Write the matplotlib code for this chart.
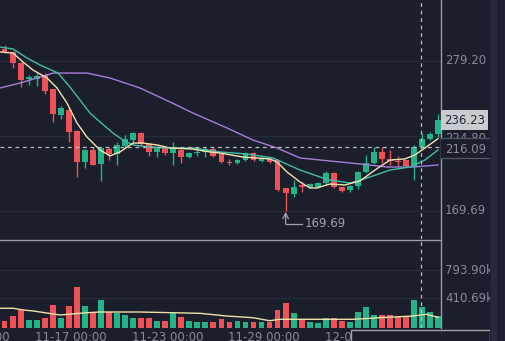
import matplotlib
matplotlib.use("Agg")
import matplotlib.pyplot as plt
from matplotlib.patches import Rectangle
from matplotlib.lines import Line2D

# candles (12h), oldest first
opens = [287.6, 285.8, 277.7, 266.1, 266.1, 269.0, 258.8, 239.8, 243.4, 228.1,
         205.5, 214.2, 204.0, 214.9, 211.3, 217.1, 221.5, 226.6, 218.6, 212.8,
         215.7, 212.0, 214.2, 209.1, 212.0, 212.8, 214.9, 211.3, 205.5, 204.7,
         206.9, 212.0, 206.2, 207.7, 206.9, 186.5, 182.1, 188.7, 187.2, 187.2,
         190.1, 197.4, 187.2, 185.0, 187.9, 198.2, 204.7, 212.8, 207.7, 206.2,
         206.9, 202.6, 216.4, 222.3, 225.9]
highs = [290.9, 286.5, 278.4, 269.0, 270.4, 270.4, 258.8, 246.3, 245.6, 228.8,
         214.9, 216.4, 215.7, 216.4, 220.1, 225.2, 227.4, 227.4, 219.0, 217.1,
         216.4, 220.1, 214.9, 212.8, 214.9, 216.4, 216.4, 212.0, 207.7, 207.7,
         212.8, 212.8, 209.1, 208.4, 207.7, 186.8, 192.3, 190.9, 190.1, 190.9,
         199.0, 198.2, 187.5, 188.7, 199.0, 210.6, 216.4, 216.4, 214.2, 209.9,
         207.2, 217.9, 226.6, 227.4, 240.5]
lows = [285.0, 274.1, 260.2, 261.7, 260.9, 255.1, 234.7, 236.9, 220.1, 194.5,
        201.1, 203.3, 191.6, 207.0, 203.3, 215.7, 219.3, 217.1, 209.9, 209.1,
        210.6, 203.3, 204.7, 208.4, 209.9, 209.1, 209.1, 204.7, 203.3, 204.0,
        206.2, 206.2, 205.5, 204.7, 184.5, 169.69, 179.9, 183.6, 186.5, 186.5,
        189.4, 186.5, 183.6, 183.6, 185.7, 197.4, 204.0, 204.7, 203.3, 202.6,
        202.0, 192.3, 215.7, 221.5, 223.7]
closes = [285.8, 277.7, 265.3, 267.5, 268.2, 257.3, 240.5, 244.9, 227.4, 205.5,
          214.2, 203.3, 215.7, 211.3, 217.9, 222.3, 226.6, 218.6, 212.8, 215.7,
          212.0, 216.4, 209.1, 212.0, 212.8, 214.9, 209.9, 205.5, 204.7, 206.9,
          212.0, 206.9, 208.4, 205.5, 185.0, 182.8, 187.2, 187.2, 189.4, 190.1,
          197.4, 187.2, 184.3, 187.9, 198.2, 204.7, 212.8, 207.7, 206.2, 205.5,
          202.6, 216.4, 222.3, 225.9, 236.23]
# volume in thousands
volumes = [100, 164, 246, 110, 110, 141, 315, 141, 301, 557,
           301, 223, 383, 215, 209, 178, 141, 141, 141, 100,
           100, 201, 146, 100, 86, 86, 86, 119, 86, 100,
           86, 86, 86, 86, 246, 338, 209, 119, 86, 64,
           133, 133, 100, 86, 215, 283, 178, 178, 178, 146,
           146, 383, 283, 215, 164]

# moving averages (candle index, value)
ma_fast_x = [-0.57, 1.05, 2.29, 3.54, 5.28, 6.53, 7.77, 9.02, 10.26, 11.88, 13.13, 14.37,
             16.0, 17.24, 18.98, 20.6, 23.46, 25.58, 26.83, 29.69, 33.05, 33.92, 35.17,
             36.79, 38.03, 38.9, 40.52, 42.39, 44.26, 46.13, 47.99, 49.86, 51.11, 52.35, 53.97]
ma_fast_y = [285.8, 285.0, 278.5, 272.6, 266.8, 259.5, 248.5, 233.9, 223.7, 214.2, 209.9, 212.8,
             219.3, 219.3, 217.9, 215.7, 214.9, 212.8, 212.0, 209.1, 207.7, 205.5, 198.2,
             190.9, 186.5, 186.5, 189.4, 188.7, 191.6, 199.6, 206.9, 207.7, 210.6, 215.7, 222.5]
ma_mid_x = [-0.57, 1.05, 2.79, 4.41, 6.65, 8.14, 9.39, 10.64, 11.88, 13.5, 14.75, 16.0,
            18.11, 20.6, 23.46, 26.83, 30.19, 33.42, 36.79, 39.28, 40.52, 43.01, 45.5,
            47.99, 50.48, 52.35, 53.97]
ma_mid_y = [289.4, 288.0, 281.4, 276.3, 270.4, 260.2, 250.7, 241.2, 234.7, 226.6, 221.5, 217.9,
            216.4, 215.7, 215.7, 212.8, 211.3, 208.4, 199.6, 194.5, 192.3, 190.1, 194.5,
            199.6, 201.8, 206.9, 214.2]
ma_slow_x = [-0.57, 1.92, 4.41, 6.03, 10.26, 13.13, 16.86, 20.6, 23.46, 27.7, 30.93,
             33.92, 36.79, 40.52, 44.26, 47.62, 50.86, 53.97]
ma_slow_y = [259.5, 263.1, 267.5, 270.4, 270.4, 266.8, 259.5, 249.3, 241.2, 230.3, 221.5,
             215.7, 208.4, 206.2, 204.0, 201.8, 201.8, 203.3]
vol_ma_x = [-0.57, 1.08, 2.33, 3.57, 6.9, 10.22, 11.88, 16.86, 24.33, 27.66, 30.93,
            33.01, 34.26, 37.16, 43.39, 47.53, 50.86, 52.52, 53.97]
vol_ma_y = [270, 270, 246, 233, 178, 209, 219, 219, 201, 164, 141,
            100, 119, 119, 119, 146, 164, 188, 146]

price_ticks = ["279.20", "169.69"]
price_tick_vals = [279.20, 169.69]
price_grid = [279.20, 224.445, 169.69]
vol_ticks = [793.90, 410.69]
date_labels = ["11-11 00:00", "11-17 00:00", "11-23 00:00", "11-29 00:00", "12-05 00:00"]
date_idx = [-3.8, 8.3, 20.3, 32.3, 44.3]
last_price = 236.23
prev_price = 224.80
cross_price = 216.09
cross_idx = 52
low_idx = 35
low_val = 169.69

BG = "#1b1e2b"
UP = "#22b389"
DOWN = "#ef5157"
GRID = "#262a3a"
TXT = "#878b97"
W, H = 506, 341


def fx(x):
    return x / W


def fy(y):
    return 1 - y / H


fig = plt.figure(figsize=(W / 100, H / 100), dpi=100, facecolor=BG)
ax = fig.add_axes([0, fy(239), fx(441), 239 / H])
axv = fig.add_axes([0, fy(328), fx(441), 88 / H])
for a in (ax, axv):
    a.set_facecolor(BG)
    a.set_xticks([])
    a.set_yticks([])
    for s in a.spines.values():
        s.set_visible(False)
    a.set_xlim(-0.573, 54.35)
ax.set_ylim(149.24, 323.74)
axv.set_ylim(0, 1204.7)

for g in price_grid:
    ax.axhline(g, color=GRID, lw=1, zorder=0)
for g in vol_ticks:
    axv.axhline(g, color=GRID, lw=1, zorder=0)

xs = list(range(len(opens)))
colors = [UP if c >= o else DOWN for o, c in zip(opens, closes)]
bottoms = [min(o, c) for o, c in zip(opens, closes)]
heights = [max(abs(c - o), 0.8) for o, c in zip(opens, closes)]
ax.vlines(xs, lows, highs, colors=colors, lw=1, zorder=2)
ax.bar(xs, heights, bottom=bottoms, width=0.72, color=colors, zorder=3, linewidth=0)

ax.plot(ma_slow_x, ma_slow_y, color="#a77fd8", lw=1, zorder=4)
ax.plot(ma_mid_x, ma_mid_y, color="#3fbfa8", lw=1, zorder=4)
ax.plot(ma_fast_x, ma_fast_y, color="#f3e3b0", lw=1, zorder=5)

axv.bar(xs, volumes, width=0.72, color=colors, linewidth=0, zorder=2)
axv.plot(vol_ma_x, vol_ma_y, color="#eee3a8", lw=1, zorder=3)

# crosshair
ax.axhline(cross_price, color="#b9bcc4", lw=0.9, ls=(0, (3, 3)), zorder=6)
ax.axvline(cross_idx - 0.1, color="#b9bcc4", lw=0.9, ls=(0, (3, 3)), zorder=6)
axv.axvline(cross_idx - 0.1, color="#b9bcc4", lw=0.9, ls=(0, (3, 3)), zorder=6)

# lowest price marker
ax.annotate("", xy=(low_idx, low_val - 0.6), xytext=(low_idx, 160.2),
            arrowprops=dict(arrowstyle="->", color="#9ea3ae", lw=0.9, shrinkA=0, shrinkB=0))
ax.plot([low_idx, low_idx + 2.0], [160.2, 160.2], color="#9ea3ae", lw=0.9)
ax.text(low_idx + 2.4, 160.2, f"{low_val:.2f}", color="#9ea3ae", fontsize=8.5, va="center")

# panel borders
fig.add_artist(Line2D([fx(0), fx(441)], [fy(239.5), fy(239.5)], color="#9a9da6", lw=1))
fig.add_artist(Line2D([fx(441), fx(441)], [fy(0), fy(328)], color="#9a9da6", lw=1))

# price axis labels
for lab, v in zip(price_ticks, price_tick_vals):
    yp = 61 + (279.2 - v) / 0.7301
    fig.text(fx(445), fy(yp), lab, color=TXT, fontsize=8.5, va="center", ha="left")
fig.text(fx(445), fy(138), f"{prev_price:.2f}", color=TXT, fontsize=8.5, va="center",
         ha="left", zorder=3)
fig.add_artist(Rectangle((fx(441), fy(158)), fx(48), 20 / H, facecolor=BG,
                         edgecolor="none", zorder=4))
fig.add_artist(Line2D([fx(441), fx(489)], [fy(138), fy(138)], color="#4e5262", lw=1, zorder=5))
fig.add_artist(Line2D([fx(441), fx(489)], [fy(158), fy(158)], color="#4e5262", lw=1, zorder=5))
fig.text(fx(445), fy(149), f"{cross_price:.2f}", color=TXT, fontsize=8.5, va="center",
         ha="left", zorder=6)
fig.add_artist(Rectangle((fx(441), fy(130)), fx(47), 20 / H, facecolor="#c9cbd1",
                         edgecolor="none", zorder=7))
fig.text(fx(464.5), fy(120), f"{last_price:.2f}", color="#23262f", fontsize=8.5,
         va="center", ha="center", zorder=8)

for v in vol_ticks:
    yp = 328 - v / 13.69
    fig.text(fx(445), fy(yp), f"{v:.2f}k", color=TXT, fontsize=8.5, va="center", ha="left")

# time axis labels (cut by the bottom edge, as in the source)
for lab, i in zip(date_labels, date_idx):
    xp = 4.6 + 8.03 * i
    fig.text(fx(xp), fy(337.5), lab, color=TXT, fontsize=8.5, va="center", ha="center")

# crosshair date box
fig.add_artist(Rectangle((fx(351), fy(345)), fx(139), 15 / H, facecolor=BG,
                         edgecolor="#a0a3ab", lw=1, zorder=9))

# right strip
fig.add_artist(Rectangle((fx(490), 0), fx(16), 1, facecolor="#1d2131", edgecolor="none", zorder=10))
fig.add_artist(Rectangle((fx(491), 0), fx(6), 1, facecolor="#252a3c", edgecolor="none", zorder=11))

fig.savefig("out.png", dpi=100, facecolor=BG)
